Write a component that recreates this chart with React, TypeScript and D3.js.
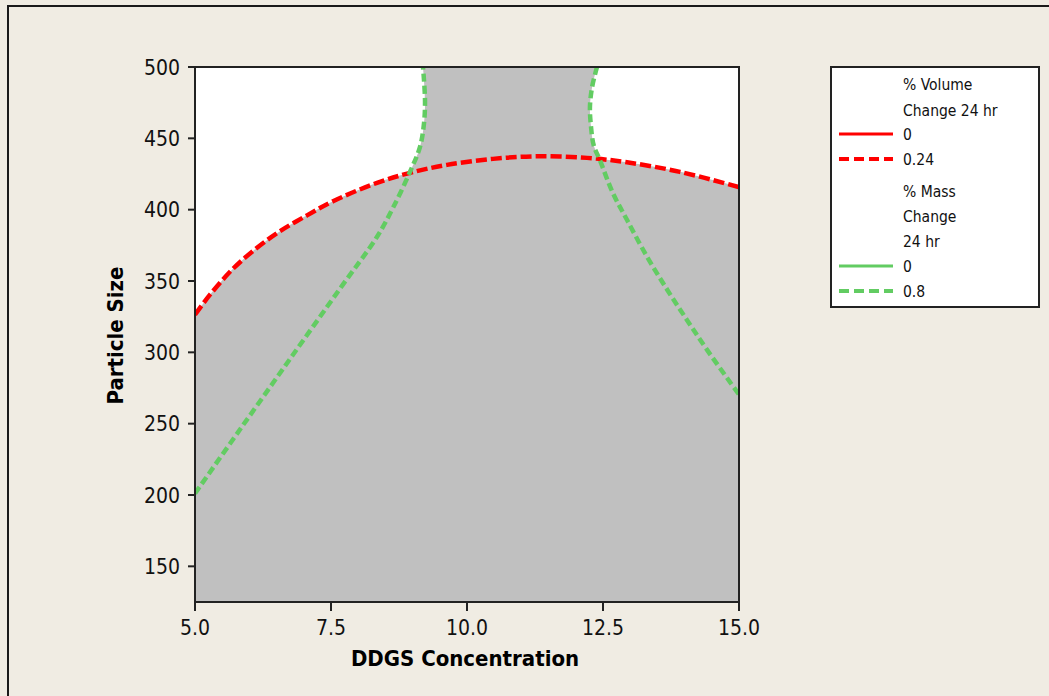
import React from "react";
import * as d3 from "d3";

// ---- data ----
const xTicks = [5.0, 7.5, 10.0, 12.5, 15.0];
const yTicks = [150, 200, 250, 300, 350, 400, 450, 500];

// % Volume Change 24 hr = 0.24 contour
const redX = [5.0, 5.276, 5.699, 6.14, 6.563, 7.059, 7.537, 8.346, 8.952, 9.632, 10.478, 11.287, 12.206, 12.941, 13.915, 15.0];
const redY = [326.4, 340.4, 358.6, 373.3, 384.9, 396.0, 405.9, 418.8, 425.8, 431.4, 435.6, 437.4, 436.3, 433.2, 426.5, 415.8];

// % Mass Change 24 hr = 0.8 contour (left branch)
const leftGreenX = [5.0, 5.827, 6.746, 7.665, 8.346, 8.64, 8.952, 9.136, 9.21, 9.228, 9.191];
const leftGreenY = [201.1, 245.9, 295.3, 344.6, 381.0, 401.3, 426.5, 444.0, 460.8, 476.9, 500];

// % Mass Change 24 hr = 0.8 contour (right branch)
const rightGreenX = [12.39, 12.3, 12.26, 12.28, 12.33, 12.44, 12.68, 12.94, 13.31, 13.68, 14.04, 14.41, 15.0];
const rightGreenY = [500, 486, 472, 458, 445, 435, 411.8, 392.9, 367, 343.9, 322.9, 301.9, 270.4];

const legendRows = [
  { label: "% Volume", kind: "none" },
  { label: "Change 24 hr", kind: "none" },
  { label: "0", kind: "redSolid" },
  { label: "0.24", kind: "redDash" },
  { label: "% Mass", kind: "none" },
  { label: "Change", kind: "none" },
  { label: "24 hr", kind: "none" },
  { label: "0", kind: "greenSolid" },
  { label: "0.8", kind: "greenDash" },
];
const legendRowY = [84, 110, 134, 159, 191, 216, 241, 266, 291];

const W = 1049;
const H = 696;
const left = 195, right = 739, top = 67, bottom = 602;
const RED = "#FF0000";
const GREEN = "#62CC62";
const BG = "#F0ECE3";
const FONT = "'DejaVu Sans Condensed', 'DejaVu Sans', sans-serif";

export default function App() {
  const x = d3.scaleLinear().domain([5, 15]).range([left, right]);
  const y = d3.scaleLinear().domain([125, 500]).range([bottom, top]);

  const toPts = (xs: number[], ys: number[]) => xs.map((v, i) => [x(v), y(ys[i])] as [number, number]);
  const line = d3.line<[number, number]>().curve(d3.curveCatmullRom.alpha(0.5));

  const redPts = toPts(redX, redY);
  const lgPts = toPts(leftGreenX, leftGreenY);
  const rgPts = toPts(rightGreenX, rightGreenY);

  const redPath = line(redPts) || "";
  const lgPath = line(lgPts) || "";
  const rgPath = line(rgPts) || "";

  const below = `${redPath} L${x(15)},${y(125)} L${x(5)},${y(125)} Z`;
  const band = `${lgPath} L${rgPath.slice(1)} L${x(15)},${y(125)} L${x(5)},${y(125)} Z`;

  return (
    <svg width={W} height={H} style={{ position: "absolute", left: 0, top: 0, display: "block" }}>
      <defs>
        <clipPath id="plotClip">
          <rect x={left} y={top} width={right - left} height={bottom - top} />
        </clipPath>
      </defs>
      <rect x={0} y={0} width={W} height={H} fill={BG} />
      <path d={`M8,${H + 5} V6 H${W + 5}`} fill="none" stroke="#1a1a1a" strokeWidth={2} />

      {/* plot area */}
      <rect x={left} y={top} width={right - left} height={bottom - top} fill="#FFFFFF" />
      <g clipPath="url(#plotClip)">
        <path d={below} fill="#C0C0C0" />
        <path d={band} fill="#C0C0C0" />
        <path d={redPath} fill="none" stroke={RED} strokeWidth={4.5} strokeDasharray="11,4" />
        <path d={lgPath} fill="none" stroke={GREEN} strokeWidth={4.5} strokeDasharray="8,4" />
        <path d={rgPath} fill="none" stroke={GREEN} strokeWidth={4.5} strokeDasharray="8,4" />
      </g>
      <rect x={left} y={top} width={right - left} height={bottom - top} fill="none" stroke="#222" strokeWidth={2} />

      {/* y axis */}
      {yTicks.map((t) => (
        <g key={"y" + t}>
          <line x1={left - 7} x2={left} y1={y(t)} y2={y(t)} stroke="#222" strokeWidth={2} />
          <text x={left - 15} y={y(t)} dy="0.36em" textAnchor="end" fontFamily={FONT} fontSize={21} fill="#111">
            {t}
          </text>
        </g>
      ))}
      {/* x axis */}
      {xTicks.map((t) => (
        <g key={"x" + t}>
          <line x1={x(t)} x2={x(t)} y1={bottom} y2={bottom + 9} stroke="#222" strokeWidth={2} />
          <text x={x(t)} y={635} textAnchor="middle" fontFamily={FONT} fontSize={21} fill="#111">
            {t.toFixed(1)}
          </text>
        </g>
      ))}

      <text x={465} y={666} textAnchor="middle" fontFamily={FONT} fontSize={22} fontWeight="bold" fill="#000">
        DDGS Concentration
      </text>
      <text
        transform={`translate(123,335.5) rotate(-90)`}
        textAnchor="middle"
        fontFamily={FONT}
        fontSize={22}
        fontWeight="bold"
        fill="#000"
      >
        Particle Size
      </text>

      {/* legend */}
      <rect x={831} y={67} width={208} height={240} fill="#FFFFFF" stroke="#222" strokeWidth={2} />
      {legendRows.map((r, i) => {
        const ly = legendRowY[i];
        let mark = null;
        if (r.kind !== "none") {
          const color = r.kind.startsWith("red") ? RED : GREEN;
          const dashed = r.kind.endsWith("Dash");
          mark = (
            <line
              x1={839}
              x2={893}
              y1={ly}
              y2={ly}
              stroke={color}
              strokeWidth={dashed ? 4 : 3}
              strokeDasharray={dashed ? "10,5" : undefined}
            />
          );
        }
        return (
          <g key={"lg" + i}>
            {mark}
            <text x={903} y={ly} dy="0.36em" fontFamily={FONT} fontSize={15.5} fill="#111">
              {r.label}
            </text>
          </g>
        );
      })}
    </svg>
  );
}
